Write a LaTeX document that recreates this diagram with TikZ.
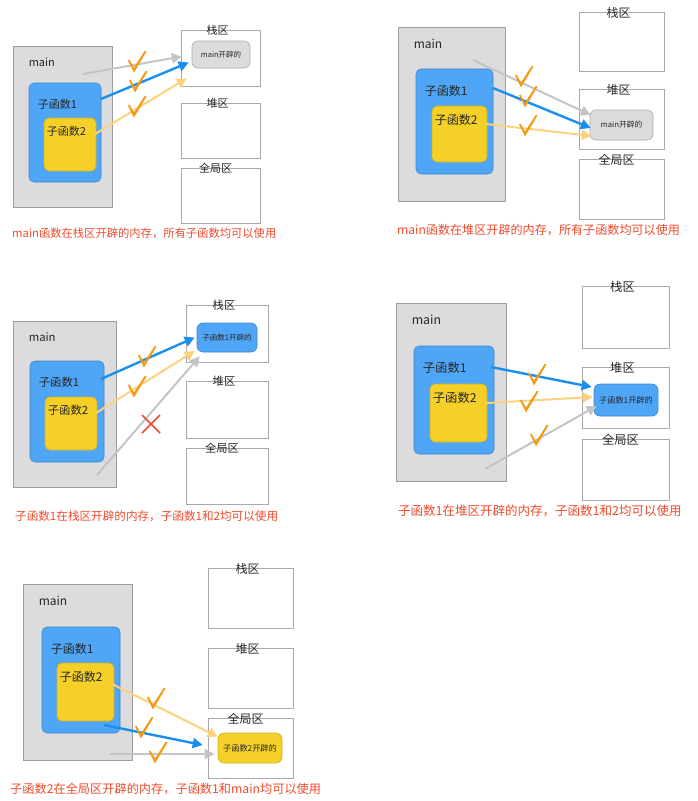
\documentclass[tikz,border=0pt]{standalone}
\usepackage{fontspec}
\setmainfont{Noto Sans CJK SC}
\usetikzlibrary{arrows.meta,calc,fit,positioning}

\definecolor{mainfill}{HTML}{DCDCDE}
\definecolor{mainline}{HTML}{9E9E9E}
\definecolor{subblue}{HTML}{4FA6F6}
\definecolor{subyellow}{HTML}{F5D028}
\definecolor{arrowblue}{HTML}{1B8FEF}
\definecolor{arrowyellow}{HTML}{FDD27F}
\definecolor{arrowgray}{HTML}{C4C4C4}
\definecolor{tickorange}{HTML}{F59A14}
\definecolor{capred}{HTML}{F2492B}
\definecolor{arealine}{HTML}{A9A9A9}

% font sizes, set again for each panel
\newcommand{\fsize}{11}
\newcommand{\msize}{7.5}

% main -> 子函数1 -> 子函数2, one nest per panel
\newcommand{\Funcs}[7]{%
  \node[mainbox, fit={#2 #3}] (main#1) {};
  \node[lbl] (mainT#1) at ($(main#1.north west)+(16,17)$) {main};
  \node[subone, fit={#4 #5}] (subA#1) {};
  \node[lbl] (subAT#1) at ($(subA#1.north west)+(9,22)$) {子函数1};
  \node[subtwo, fit={#6 #7}] (subB#1) {};
  \node[lbl] (subBT#1) at ($(subB#1.north west)+(3,14)$) {子函数2};
}
% 栈区, 堆区, 全局区
\newcommand{\Areas}[9]{%
  \node[area, fit={(#2,#4) (#3,#5)}] (stack#1) {};
  \node[arealbl] (stackT#1) at ($(stack#1.north)+(-3,1)$) {栈区};
  \node[area, fit={(#2,#6) (#3,#7)}] (heap#1) {};
  \node[arealbl] (heapT#1) at ($(heap#1.north)+(-3,1)$) {堆区};
  \node[area, fit={(#2,#8) (#3,#9)}] (global#1) {};
  \node[arealbl] (globalT#1) at ($(global#1.north)+(-5,1)$) {全局区};
}
\newcommand{\Tick}[2]{%
  \fill[tickorange, shift={(#1,#2)}] (-9,-1.5) -- (-3,10.5) -- (9.5,-10.5)
    -- (7.8,-11.2) -- (-3,5.5) -- (-7.6,-2.5) -- cycle;
}

\begin{document}
\begin{tikzpicture}[x=1pt, y=-1pt,
    >={Triangle[length=10pt,width=10pt]},
    mainbox/.style={draw=mainline, fill=mainfill, line width=0.8pt, inner sep=0},
    subone/.style={draw=subblue!80!black, fill=subblue, rounded corners=5pt, line width=0.6pt, inner sep=0},
    subtwo/.style={draw=subyellow!85!black, fill=subyellow, rounded corners=5pt, line width=0.6pt, inner sep=0},
    area/.style={draw=arealine, line width=0.8pt, inner sep=0},
    lbl/.style={anchor=west, inner sep=0, text=black!85, font=\fontsize{\fsize}{13}\selectfont},
    arealbl/.style={inner sep=0, text=black!85, font=\fontsize{\fsize}{13}\selectfont},
    memtxt/.style={rounded corners=6pt, line width=0.6pt, inner sep=0, text=black!85,
      font=\fontsize{\msize}{9}\selectfont},
    memgray/.style={memtxt, draw=arealine, fill=mainfill},
    memblue/.style={memtxt, draw=subblue!80!black, fill=subblue},
    memyellow/.style={memtxt, draw=subyellow!85!black, fill=subyellow},
    caption/.style={anchor=west, inner sep=0, text=capred},
    arrgray/.style={->, draw=arrowgray, line width=2pt},
    arrblue/.style={->, draw=arrowblue, line width=2.4pt},
    arryellow/.style={->, draw=arrowyellow, line width=2pt}]

\useasboundingbox (0,0) rectangle (698,801);

% panel 1: main on the stack
\Funcs{1}{(13,46)}{(112,207)}{(29,83)}{(101,182)}{(44,118)}{(96,171)}
\Areas{1}{181}{260}{30}{86}{103}{158}{168}{223}
\node[memgray, minimum width=58pt, minimum height=27pt] (mem1) at (221,54.5) {main开辟的};
\coordinate (g1) at (83,74);
\coordinate (b1) at (101,99);
\coordinate (y1) at (95,134);
\draw[arrgray] (g1) -- ($(mem1.west)+(-10,2)$);
\draw[arrblue] (b1) -- ($(mem1.west)+(-3,8)$);
\draw[arryellow] (y1) -- ($(mem1.south west)+(-5,10)$);
\Tick{137}{62}
\Tick{138}{82}
\Tick{137}{107}
\node[caption, font=\fontsize{11.3}{13}\selectfont] (cap1) at (12,233) {main函数在栈区开辟的内存，所有子函数均可以使用};

% panel 2: main on the heap
\renewcommand{\fsize}{12}\renewcommand{\msize}{7.8}
\Funcs{2}{(398,27)}{(505,201)}{(416,69)}{(493,174)}{(432,106)}{(487,162)}
\Areas{2}{579}{664}{12}{71}{89}{149}{159}{219}
\node[memgray, minimum width=63pt, minimum height=30pt] (mem2) at (621.5,125) {main开辟的};
\coordinate (g2) at (473,60);
\coordinate (b2) at (493,88);
\coordinate (y2) at (486,124);
\draw[arrgray] (g2) -- ($(mem2.west)+(1,-10)$);
\draw[arrblue] (b2) -- ($(mem2.west)+(1,3)$);
\draw[arryellow] (y2) -- ($(mem2.west)+(2,11)$);
\Tick{524}{77}
\Tick{528}{97}
\Tick{528}{126}
\node[caption, font=\fontsize{12.1}{14}\selectfont] (cap2) at (397,230) {main函数在堆区开辟的内存，所有子函数均可以使用};

% panel 3: 子函数1 on the stack
\renewcommand{\fsize}{11.3}\renewcommand{\msize}{7.5}
\Funcs{3}{(13,321)}{(116,487)}{(30,361)}{(104,462)}{(45,397)}{(97,450)}
\Areas{3}{186}{268}{305}{362}{381}{438}{448}{504}
\node[memblue, minimum width=60pt, minimum height=29pt] (mem3) at (227,337.5) {子函数1开辟的};
\coordinate (b3) at (101,379);
\coordinate (y3) at (96,413);
\coordinate (g3) at (97,475);
\draw[arrblue] (b3) -- ($(mem3.west)+(-2,0)$);
\draw[arryellow] (y3) -- ($(mem3.west)+(-2,13.5)$);
\draw[arrgray] (g3) -- ($(mem3.south west)+(3,4)$);
\Tick{147}{357}
\Tick{137}{387}
\draw[capred, line width=1.6pt] (142,415) -- (160,433) (160,415) -- (142,433);
\node[caption, font=\fontsize{11.6}{14}\selectfont] (cap3) at (15,516) {子函数1在栈区开辟的内存，子函数1和2均可以使用};

% panel 4: 子函数1 on the heap
\renewcommand{\fsize}{12.3}\renewcommand{\msize}{8.2}
\Funcs{4}{(396,303)}{(506,481)}{(414,346)}{(494,454)}{(430,384)}{(487,442)}
\Areas{4}{582}{669}{286}{348}{367}{428}{439}{500}
\node[memblue, minimum width=64pt, minimum height=32pt] (mem4) at (626,400) {子函数1开辟的};
\coordinate (b4) at (491,367);
\coordinate (y4) at (486,403);
\coordinate (g4) at (485,469);
\draw[arrblue] (b4) -- ($(mem4.west)+(-2,-13)$);
\draw[arryellow] (y4) -- ($(mem4.west)+(-1,-3)$);
\draw[arrgray] (g4) -- ($(mem4.west)+(3,6)$);
\Tick{537}{375}
\Tick{529}{402}
\Tick{539}{436}
\node[caption, font=\fontsize{12.5}{14}\selectfont] (cap4) at (398,511) {子函数1在堆区开辟的内存，子函数1和2均可以使用};

% panel 5: 子函数2 in the global area
\renewcommand{\fsize}{12}\renewcommand{\msize}{8.2}
\Funcs{5}{(23,584)}{(132,760)}{(42,627)}{(120,733)}{(57,663)}{(114,721)}
\Areas{5}{208}{293}{568}{628}{648}{708}{718}{778}
\node[memyellow, minimum width=64pt, minimum height=30pt] (mem5) at (250,748) {子函数2开辟的};
\coordinate (y5) at (112,684);
\coordinate (b5) at (104,725);
\coordinate (g5) at (110,754);
\draw[arryellow] (y5) -- ($(mem5.north west)+(0,4)$);
\draw[arrblue] (b5) -- ($(mem5.west)+(-15,-3)$);
\draw[arrgray] (g5) -- ($(mem5.west)+(-3,6)$);
\Tick{156}{699}
\Tick{144}{728}
\Tick{158}{753}
\node[caption, font=\fontsize{12.2}{14}\selectfont] (cap5) at (10,789) {子函数2在全局区开辟的内存，子函数1和main均可以使用};

\end{tikzpicture}
\end{document}
